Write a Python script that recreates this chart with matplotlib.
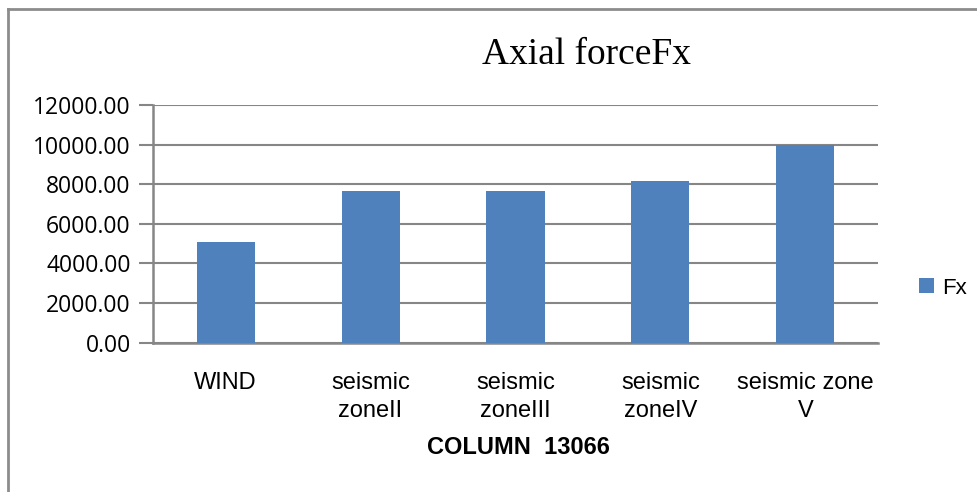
import matplotlib
matplotlib.use("Agg")
import matplotlib.pyplot as plt
from matplotlib.lines import Line2D

categories = ["WIND", "seismic\nzoneII", "seismic\nzoneIII", "seismic\nzoneIV", "seismic zone\nV"]
fx_values = [5090, 7660, 7660, 8150, 10000]
y_ticks = [0, 2000, 4000, 6000, 8000, 10000, 12000]
series_name = "Fx"
title_text = "Axial forceFx"
xlabel_text = "COLUMN  13066"

bar_color = "#4F81BD"
grid_color = "#868686"

labfont = ["Liberation Sans", "DejaVu Sans"]
tickfont = ["Open Sans", "DejaVu Sans"]

fig = plt.figure(figsize=(9.78, 4.92), dpi=100)
ax = fig.add_axes([153/978, 1-342.5/492, (878-153)/978, (342.5-105)/492])

x = list(range(len(categories)))
ax.bar(x, fx_values, width=0.40, color=bar_color, zorder=3, label=series_name)
ax.set_xlim(-0.5, len(categories) - 0.5)
ax.set_ylim(0, 12000)
ax.set_yticks(y_ticks)
ax.set_yticklabels([f"{v:.2f}" for v in y_ticks], family=tickfont, fontsize=16.5)
ax.set_xticks(x)
ax.set_xticklabels(categories, family=labfont, fontsize=17, linespacing=1.4)
ax.tick_params(axis="x", length=0, pad=21)
ax.tick_params(axis="y", length=10, width=1.5, color=grid_color, pad=6)
ax.yaxis.grid(True, color=grid_color, linewidth=1.5, zorder=0)
for s in ["top", "right"]:
    ax.spines[s].set_visible(False)
for s in ["left", "bottom"]:
    ax.spines[s].set_color(grid_color)
    ax.spines[s].set_linewidth(1.8)

fig.text(587/978, 1-55/492, title_text, family=["Liberation Serif"], fontsize=27,
         ha="center", va="center")
fig.text(518/978, 1-447/492, xlabel_text, family=labfont, fontsize=17,
         fontweight="bold", ha="center", va="center")

leg = ax.legend(loc="center left", bbox_to_anchor=(919/978, 1-288/492),
                bbox_transform=fig.transFigure, frameon=False,
                prop={"family": labfont, "size": 16}, handlelength=0.68,
                handleheight=0.68, handletextpad=0.35, borderpad=0, borderaxespad=0)

fig.add_artist(Line2D([8/978, 8/978], [0, 1-9/492], color="#8c8c8c", linewidth=2))
fig.add_artist(Line2D([8/978, 1], [1-9/492, 1-9/492], color="#8c8c8c", linewidth=2))

fig.savefig("out.png", dpi=100)
